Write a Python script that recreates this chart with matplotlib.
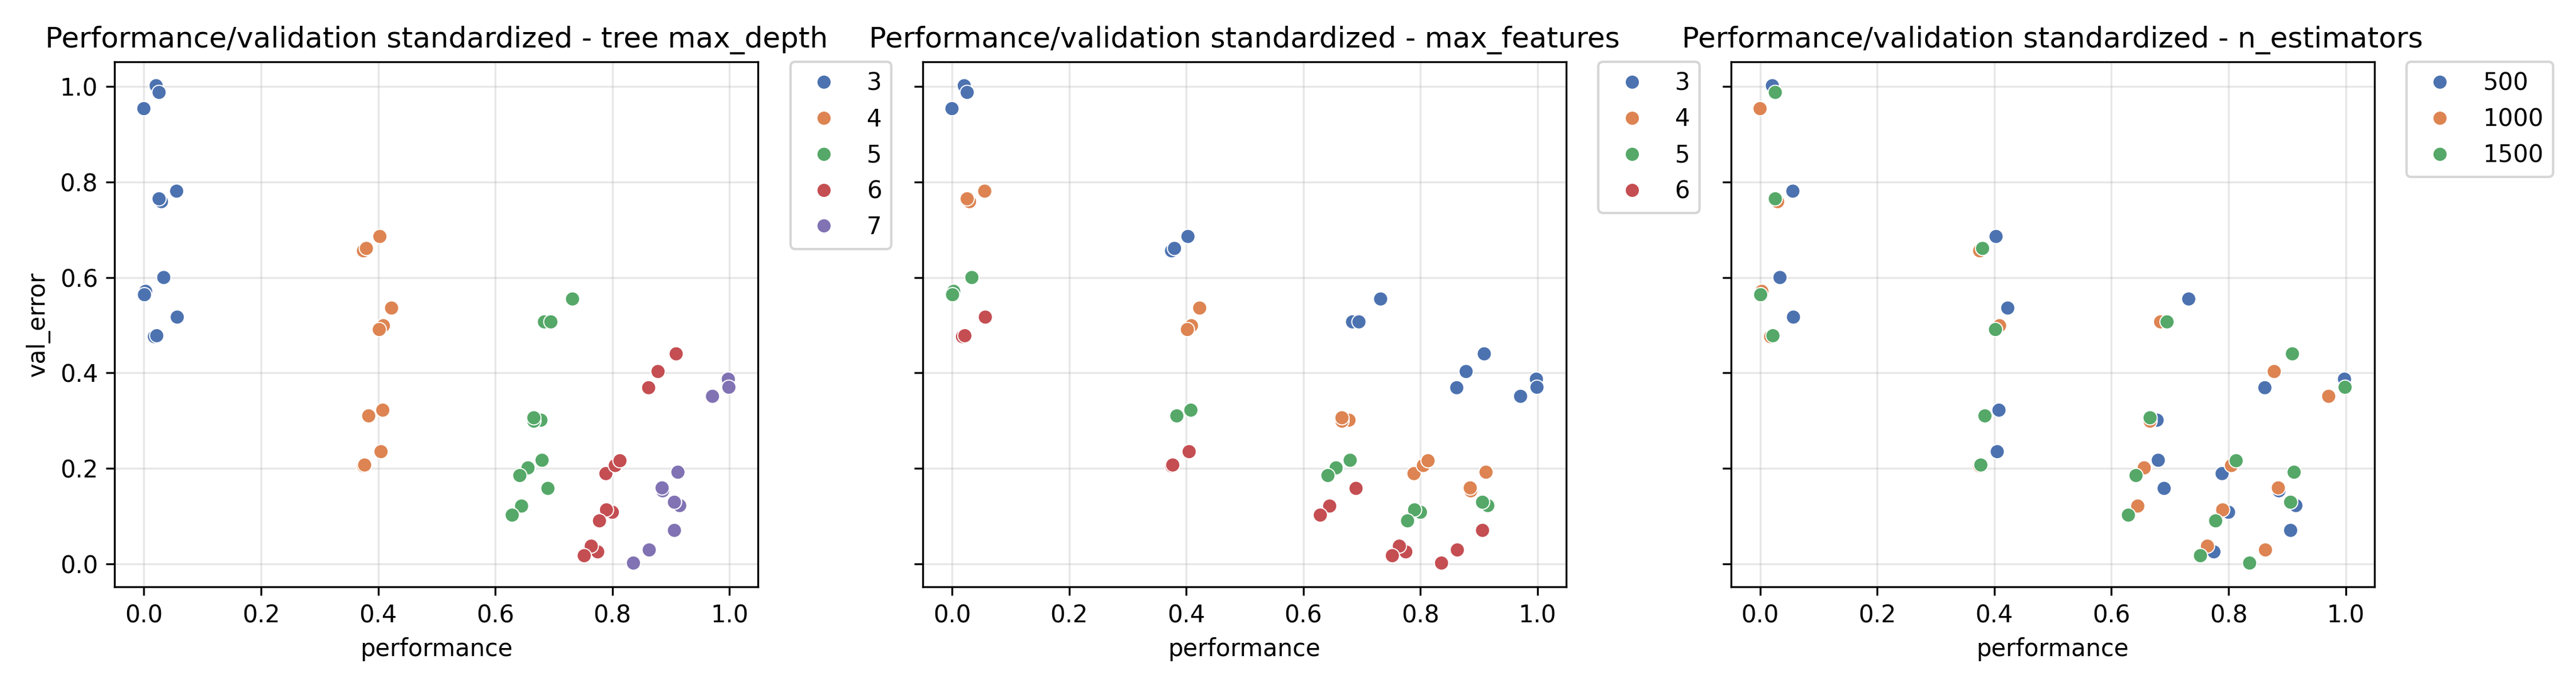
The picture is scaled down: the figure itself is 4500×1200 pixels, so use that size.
import matplotlib
matplotlib.use("Agg")
import matplotlib.pyplot as plt
import seaborn as sns
import pandas as pd

# Grid-search results (order: max_depth -> max_features -> n_estimators)
max_depth = [3] * 12 + [4] * 12 + [5] * 12 + [6] * 12 + [7] * 12
max_features = ([3, 3, 3, 4, 4, 4, 5, 5, 5, 6, 6, 6]) * 5
n_estimators = ([500, 1000, 1500] * 4) * 5

performance = [
    # depth 3
    0.021, 0.000, 0.026,   0.056, 0.030, 0.026,   0.034, 0.003, 0.001,   0.057, 0.018, 0.022,
    # depth 4
    0.403, 0.375, 0.380,   0.423, 0.409, 0.402,   0.408, 0.384, 0.384,   0.405, 0.375, 0.377,
    # depth 5
    0.732, 0.684, 0.695,   0.678, 0.666, 0.666,   0.680, 0.656, 0.642,   0.690, 0.645, 0.629,
    # depth 6
    0.862, 0.878, 0.909,   0.789, 0.805, 0.813,   0.800, 0.790, 0.778,   0.775, 0.764, 0.752,
    # depth 7
    0.998, 0.971, 0.999,   0.886, 0.885, 0.912,   0.915, 0.906, 0.906,   0.906, 0.863, 0.836,
]

val_error = [
    # depth 3
    1.002, 0.954, 0.988,   0.781, 0.759, 0.765,   0.600, 0.571, 0.564,   0.517, 0.476, 0.478,
    # depth 4
    0.686, 0.656, 0.661,   0.536, 0.499, 0.491,   0.322, 0.311, 0.310,   0.235, 0.205, 0.207,
    # depth 5
    0.555, 0.507, 0.507,   0.301, 0.299, 0.306,   0.217, 0.201, 0.185,   0.158, 0.121, 0.102,
    # depth 6
    0.369, 0.403, 0.440,   0.189, 0.206, 0.216,   0.108, 0.113, 0.090,   0.025, 0.037, 0.017,
    # depth 7
    0.387, 0.351, 0.370,   0.153, 0.159, 0.192,   0.122, 0.130, 0.129,   0.070, 0.029, 0.0015,
]

hue_vars = ["max_depth", "max_features", "n_estimators"]
titles = [
    "Performance/validation standardized - tree max_depth",
    "Performance/validation standardized - max_features",
    "Performance/validation standardized - n_estimators",
]

df = pd.DataFrame({
    "max_depth": [str(v) for v in max_depth],
    "max_features": [str(v) for v in max_features],
    "n_estimators": [str(v) for v in n_estimators],
    "performance": performance,
    "val_error": val_error,
})

fig, axes = plt.subplots(1, 3, figsize=(15, 4), dpi=300, sharey=True)
palette = sns.color_palette("deep")

for ax, hv, title in zip(axes, hue_vars, titles):
    order = sorted(df[hv].unique(), key=lambda s: int(s))
    sns.scatterplot(data=df, x="performance", y="val_error", hue=hv,
                    hue_order=order, palette=palette[:len(order)], ax=ax)
    ax.set_title(title, fontsize=12)
    ax.grid(alpha=0.3)
    ax.set_axisbelow(True)
    ax.legend(bbox_to_anchor=(1.05, 1), loc=2, borderaxespad=0)
    ax.set_xticks([0.0, 0.2, 0.4, 0.6, 0.8, 1.0])
    ax.set_yticks([0.0, 0.2, 0.4, 0.6, 0.8, 1.0])

plt.tight_layout()
fig.savefig("out.png", dpi=300)
